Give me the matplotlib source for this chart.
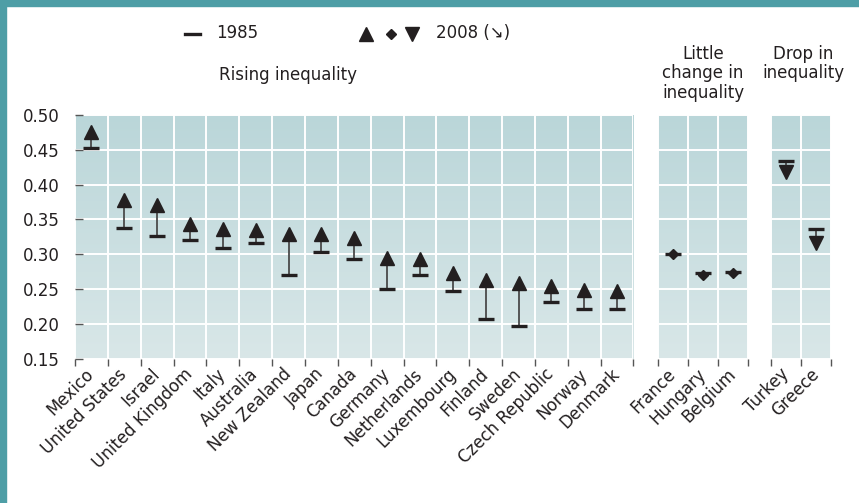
import matplotlib.pyplot as plt
import numpy as np
from matplotlib.lines import Line2D
from matplotlib.patches import Rectangle

# Gini coefficients, mid-1980s vs late 2000s
rise_countries = ["Mexico", "United States", "Israel", "United Kingdom", "Italy",
                  "Australia", "New Zealand", "Japan", "Canada", "Germany",
                  "Netherlands", "Luxembourg", "Finland", "Sweden",
                  "Czech Republic", "Norway", "Denmark"]
rise_1985 = [0.453, 0.337, 0.326, 0.320, 0.309, 0.316, 0.271, 0.304, 0.293,
             0.250, 0.271, 0.247, 0.207, 0.197, 0.231, 0.221, 0.221]
rise_2008 = [0.475, 0.378, 0.370, 0.344, 0.336, 0.335, 0.329, 0.329, 0.323,
             0.295, 0.293, 0.273, 0.263, 0.259, 0.255, 0.249, 0.248]

flat_countries = ["France", "Hungary", "Belgium"]
flat_1985 = [0.300, 0.273, 0.275]
flat_2008 = [0.300, 0.271, 0.273]

drop_countries = ["Turkey", "Greece"]
drop_1985 = [0.434, 0.336]
drop_2008 = [0.418, 0.316]

y_ticks = [0.15, 0.20, 0.25, 0.30, 0.35, 0.40, 0.45, 0.50]

INK = "#231f20"
TEAL = "#4e9ea6"
W, H = 859, 503

plt.rcParams['font.family'] = ['DejaVu Sans']

fig = plt.figure(figsize=(W / 100, H / 100), dpi=100)

# teal frame on the left and top
fig.add_artist(Rectangle((0, 0), 6 / W, 1, transform=fig.transFigure, color=TEAL, zorder=0))
fig.add_artist(Rectangle((0, 1 - 5.5 / H), 1, 5.5 / H, transform=fig.transFigure, color=TEAL, zorder=0))

gradient = np.linspace(0, 1, 256).reshape(-1, 1)
bg_cmap = plt.matplotlib.colors.LinearSegmentedColormap.from_list("bg", ["#d9e7e8", "#bad6d9"])


def draw_panel(left_px, right_px, countries, v85, v08, marker, show_y):
    bottom, top = 359, 114.7
    ax = fig.add_axes([left_px / W, 1 - bottom / H, (right_px - left_px) / W, (bottom - top) / H])
    n = len(countries)
    x = np.arange(n) + 0.5
    ax.imshow(gradient, extent=[0, 1, 0, 1], transform=ax.transAxes, aspect='auto',
              cmap=bg_cmap, origin='lower', zorder=0)
    ax.set_xlim(0, n)
    ax.set_ylim(0.15, 0.50)
    ax.set_xticks(np.arange(n + 1))
    ax.set_xticklabels([])
    ax.set_xticks(x, minor=True)
    ax.set_xticklabels(countries, minor=True, rotation=45, ha='right', va='center',
                       rotation_mode='anchor', fontsize=12, color=INK)
    ax.tick_params(axis='x', which='major', direction='out', length=5, width=1, color='#555555')
    ax.tick_params(axis='x', which='minor', length=0, pad=9)
    ax.set_yticks(y_ticks)
    if show_y:
        ax.set_yticklabels([f"{t:.2f}" for t in y_ticks])
        ax.tick_params(axis='y', direction='in', length=6, width=1, color='#555555',
                       labelsize=12, labelcolor=INK, pad=11)
    else:
        ax.tick_params(axis='y', length=0, labelleft=False)
    ax.grid(True, which='major', color='white', lw=1.4)
    ax.set_axisbelow(True)
    for s in ax.spines.values():
        s.set_visible(False)

    ax.vlines(x, v85, v08, color='#4a4a4a', lw=1.3, zorder=3)
    ax.plot(x, v85, ls='none', marker='_', ms=12, mew=2.4, color=INK, zorder=4)
    ms = 5 if marker == 'D' else 10
    ax.plot(x, v08, ls='none', marker=marker, ms=ms, color=INK, zorder=5)
    return ax


draw_panel(75, 633.5, rise_countries, rise_1985, rise_2008, '^', True)
draw_panel(658, 748, flat_countries, flat_1985, flat_2008, 'D', False)
draw_panel(771, 831, drop_countries, drop_1985, drop_2008, 'v', False)

# legend
def fx(px):
    return px / W


def fy(py):
    return 1 - py / H


fig.add_artist(Line2D([fx(185), fx(200)], [fy(34), fy(34)], lw=2.4, color=INK))
fig.text(fx(216), fy(33), "1985", fontsize=12, color=INK, va='center', ha='left')
fig.add_artist(Line2D([fx(366)], [fy(34)], marker='^', ms=10, color=INK, ls='none'))
fig.add_artist(Line2D([fx(391)], [fy(34)], marker='D', ms=5, color=INK, ls='none'))
fig.add_artist(Line2D([fx(412)], [fy(34)], marker='v', ms=10, color=INK, ls='none'))
fig.text(fx(436), fy(33), "2008 (\u2198)", fontsize=12, color=INK, va='center', ha='left')

# group headings
fig.text(fx(288), fy(75), "Rising inequality", fontsize=12, color=INK, ha='center', va='center')
fig.text(fx(703), fy(45), "Little\nchange in\ninequality", fontsize=12, color=INK,
         ha='center', va='top', linespacing=1.1)
fig.text(fx(803), fy(45), "Drop in\ninequality", fontsize=12, color=INK,
         ha='center', va='top', linespacing=1.1)

fig.savefig("out.png", dpi=100)
